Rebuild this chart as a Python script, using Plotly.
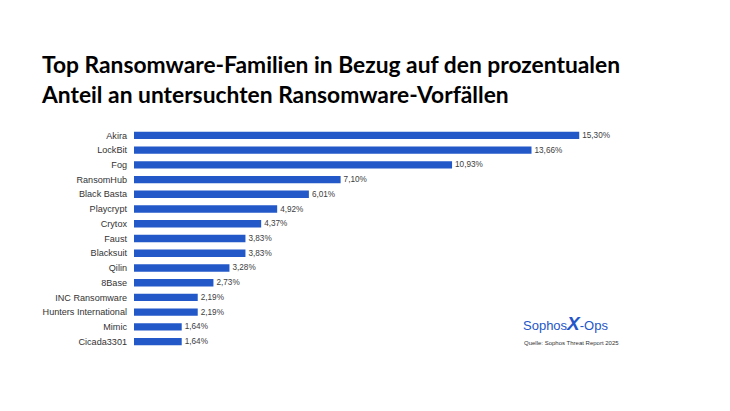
import plotly.graph_objects as go

families = ["Akira", "LockBit", "Fog", "RansomHub", "Black Basta", "Playcrypt", "Crytox",
            "Faust", "Blacksuit", "Qilin", "8Base", "INC Ransomware", "Hunters International",
            "Mimic", "Cicada3301"]
shares = [15.30, 13.66, 10.93, 7.10, 6.01, 4.92, 4.37, 3.83, 3.83, 3.28, 2.73, 2.19, 2.19, 1.64, 1.64]
labels = [f"{v:.2f}".replace(".", ",") + "%" for v in shares]

title = "Top Ransomware-Familien in Bezug auf den prozentualen<br>Anteil an untersuchten Ransomware-Vorfällen"
source = "Quelle: Sophos Threat Report 2025"

fig = go.Figure(go.Bar(
    x=shares, y=families, orientation="h",
    marker=dict(color="#2358C8", line=dict(width=0)),
    width=0.5,
    text=labels, textposition="outside", cliponaxis=False, constraintext="none",
    textfont=dict(family="Liberation Sans, Arial", size=8.2, color="#404040"),
))

fig.update_layout(
    width=730, height=411,
    margin=dict(l=134, r=14, t=128, b=62),
    paper_bgcolor="white", plot_bgcolor="white",
    showlegend=False,
    title=dict(text="<b>" + title + "</b>", x=42/730, xanchor="left", xref="container",
               y=1 - 73/411, yanchor="top", yref="container",
               font=dict(family="Lato", size=22.8, color="#000000")),
    xaxis=dict(range=[0, 20], visible=False, showgrid=False, zeroline=False),
    yaxis=dict(autorange="reversed", showgrid=False, zeroline=False, showline=False,
               ticks="", ticklabelstandoff=6,
               tickfont=dict(family="Liberation Sans, Arial", size=9.1, color="#333333")),
    annotations=[
        dict(text="Sophos<span style='font-size:19px'><b><i>X</i></b></span>-Ops",
             xref="paper", yref="paper", x=(521-134)/582, y=(411-62-323)/221.8,
             xanchor="left", yanchor="middle", showarrow=False,
             font=dict(family="Liberation Sans, Arial", size=13, color="#2456C8")),
        dict(text=source, xref="paper", yref="paper", x=(522-134)/582, y=(349-343)/221.8,
             xanchor="left", yanchor="middle", showarrow=False,
             font=dict(family="Liberation Sans, Arial", size=6, color="#333333")),
    ],
)

fig.write_html("out.html")
